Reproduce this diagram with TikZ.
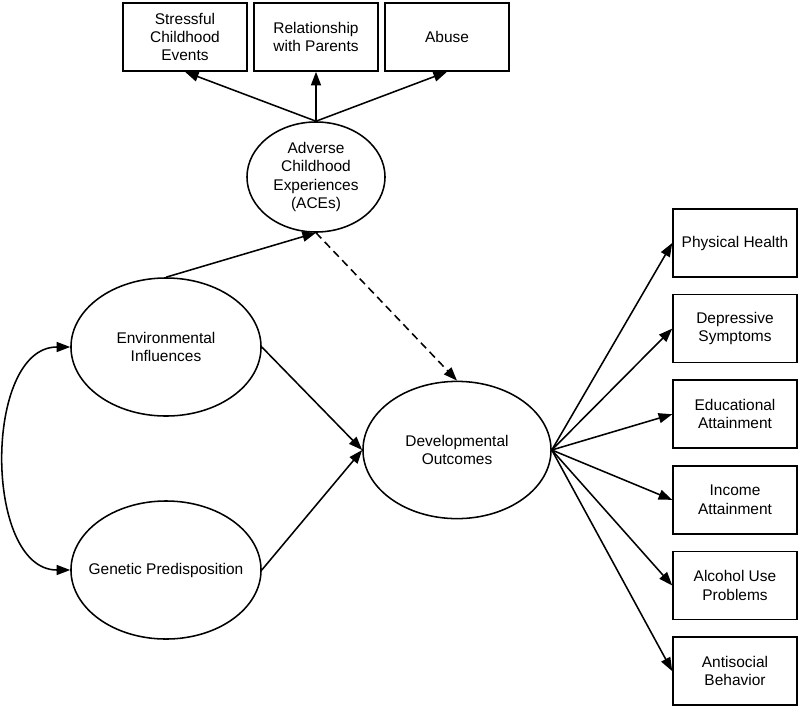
\documentclass[tikz,border=0pt]{standalone}
\usepackage{fontspec}
\setmainfont{Liberation Sans}
\usetikzlibrary{arrows.meta,positioning,shapes.geometric}

\begin{document}
\begin{tikzpicture}[x=0.025cm,y=-0.025cm,on grid,node distance=2.14cm,
    line width=1.1pt,>={Triangle[length=3.4mm,width=2.5mm]},
    every node/.style={font=\fontsize{11}{13}\selectfont,align=center},
    box/.style={draw,rectangle,minimum width=3.1cm,minimum height=1.7cm},
    latent/.style={draw,ellipse,minimum width=4.75cm,minimum height=3.45cm}]
   \useasboundingbox (0,0) rectangle (800,710);

   % top indicators
   \node[box] (rel) at (316,37) {Relationship\\with Parents};
   \node[box] (stress) [left=3.275cm of rel] {Stressful\\Childhood\\Events};
   \node[box] (abuse) [right=3.275cm of rel] {Abuse};
   \node[draw,ellipse,minimum width=3.45cm,minimum height=2.75cm,inner sep=0pt] (aces) at (316,177)
      {Adverse\\Childhood\\Experiences\\(ACEs)};

   % latent variables
   \node[latent] (env) at (166,347) {Environmental\\Influences};
   \node[latent] (gen) at (166,570) {\makebox[2cm]{Genetic Predisposition}};
   \node[latent,minimum width=4.7cm,minimum height=3.43cm] (dev) at (457,450)
      {Developmental\\Outcomes};

   % outcomes
   \node[box] (health) at (735,243) {Physical Health};
   \node[box] (dep) [below=of health] {Depressive\\Symptoms};
   \node[box] (edu) [below=of dep] {Educational\\Attainment};
   \node[box] (inc) [below=of edu] {Income\\Attainment};
   \node[box] (alc) [below=of inc] {Alcohol Use\\Problems};
   \node[box] (anti) [below=of alc] {Antisocial\\Behavior};

   \path[->] (aces.north) edge (stress.south)
                          edge (rel.south)
                          edge (abuse.south);
   \path[->] (env.north) edge (aces.south);
   \path[->,dash pattern=on 5.5pt off 3.5pt] (aces.south) edge (dev.north);
   \path[->] (env.east) edge (dev.west);
   \path[->] (gen.east) edge (dev.west);
   \path[<->] (env.west) edge [out=180,in=180,looseness=1] (gen.west);

   \foreach \o in {health,dep,edu,inc,alc,anti}
      \draw[->] (dev.east) -- (\o.west);
\end{tikzpicture}
\end{document}
